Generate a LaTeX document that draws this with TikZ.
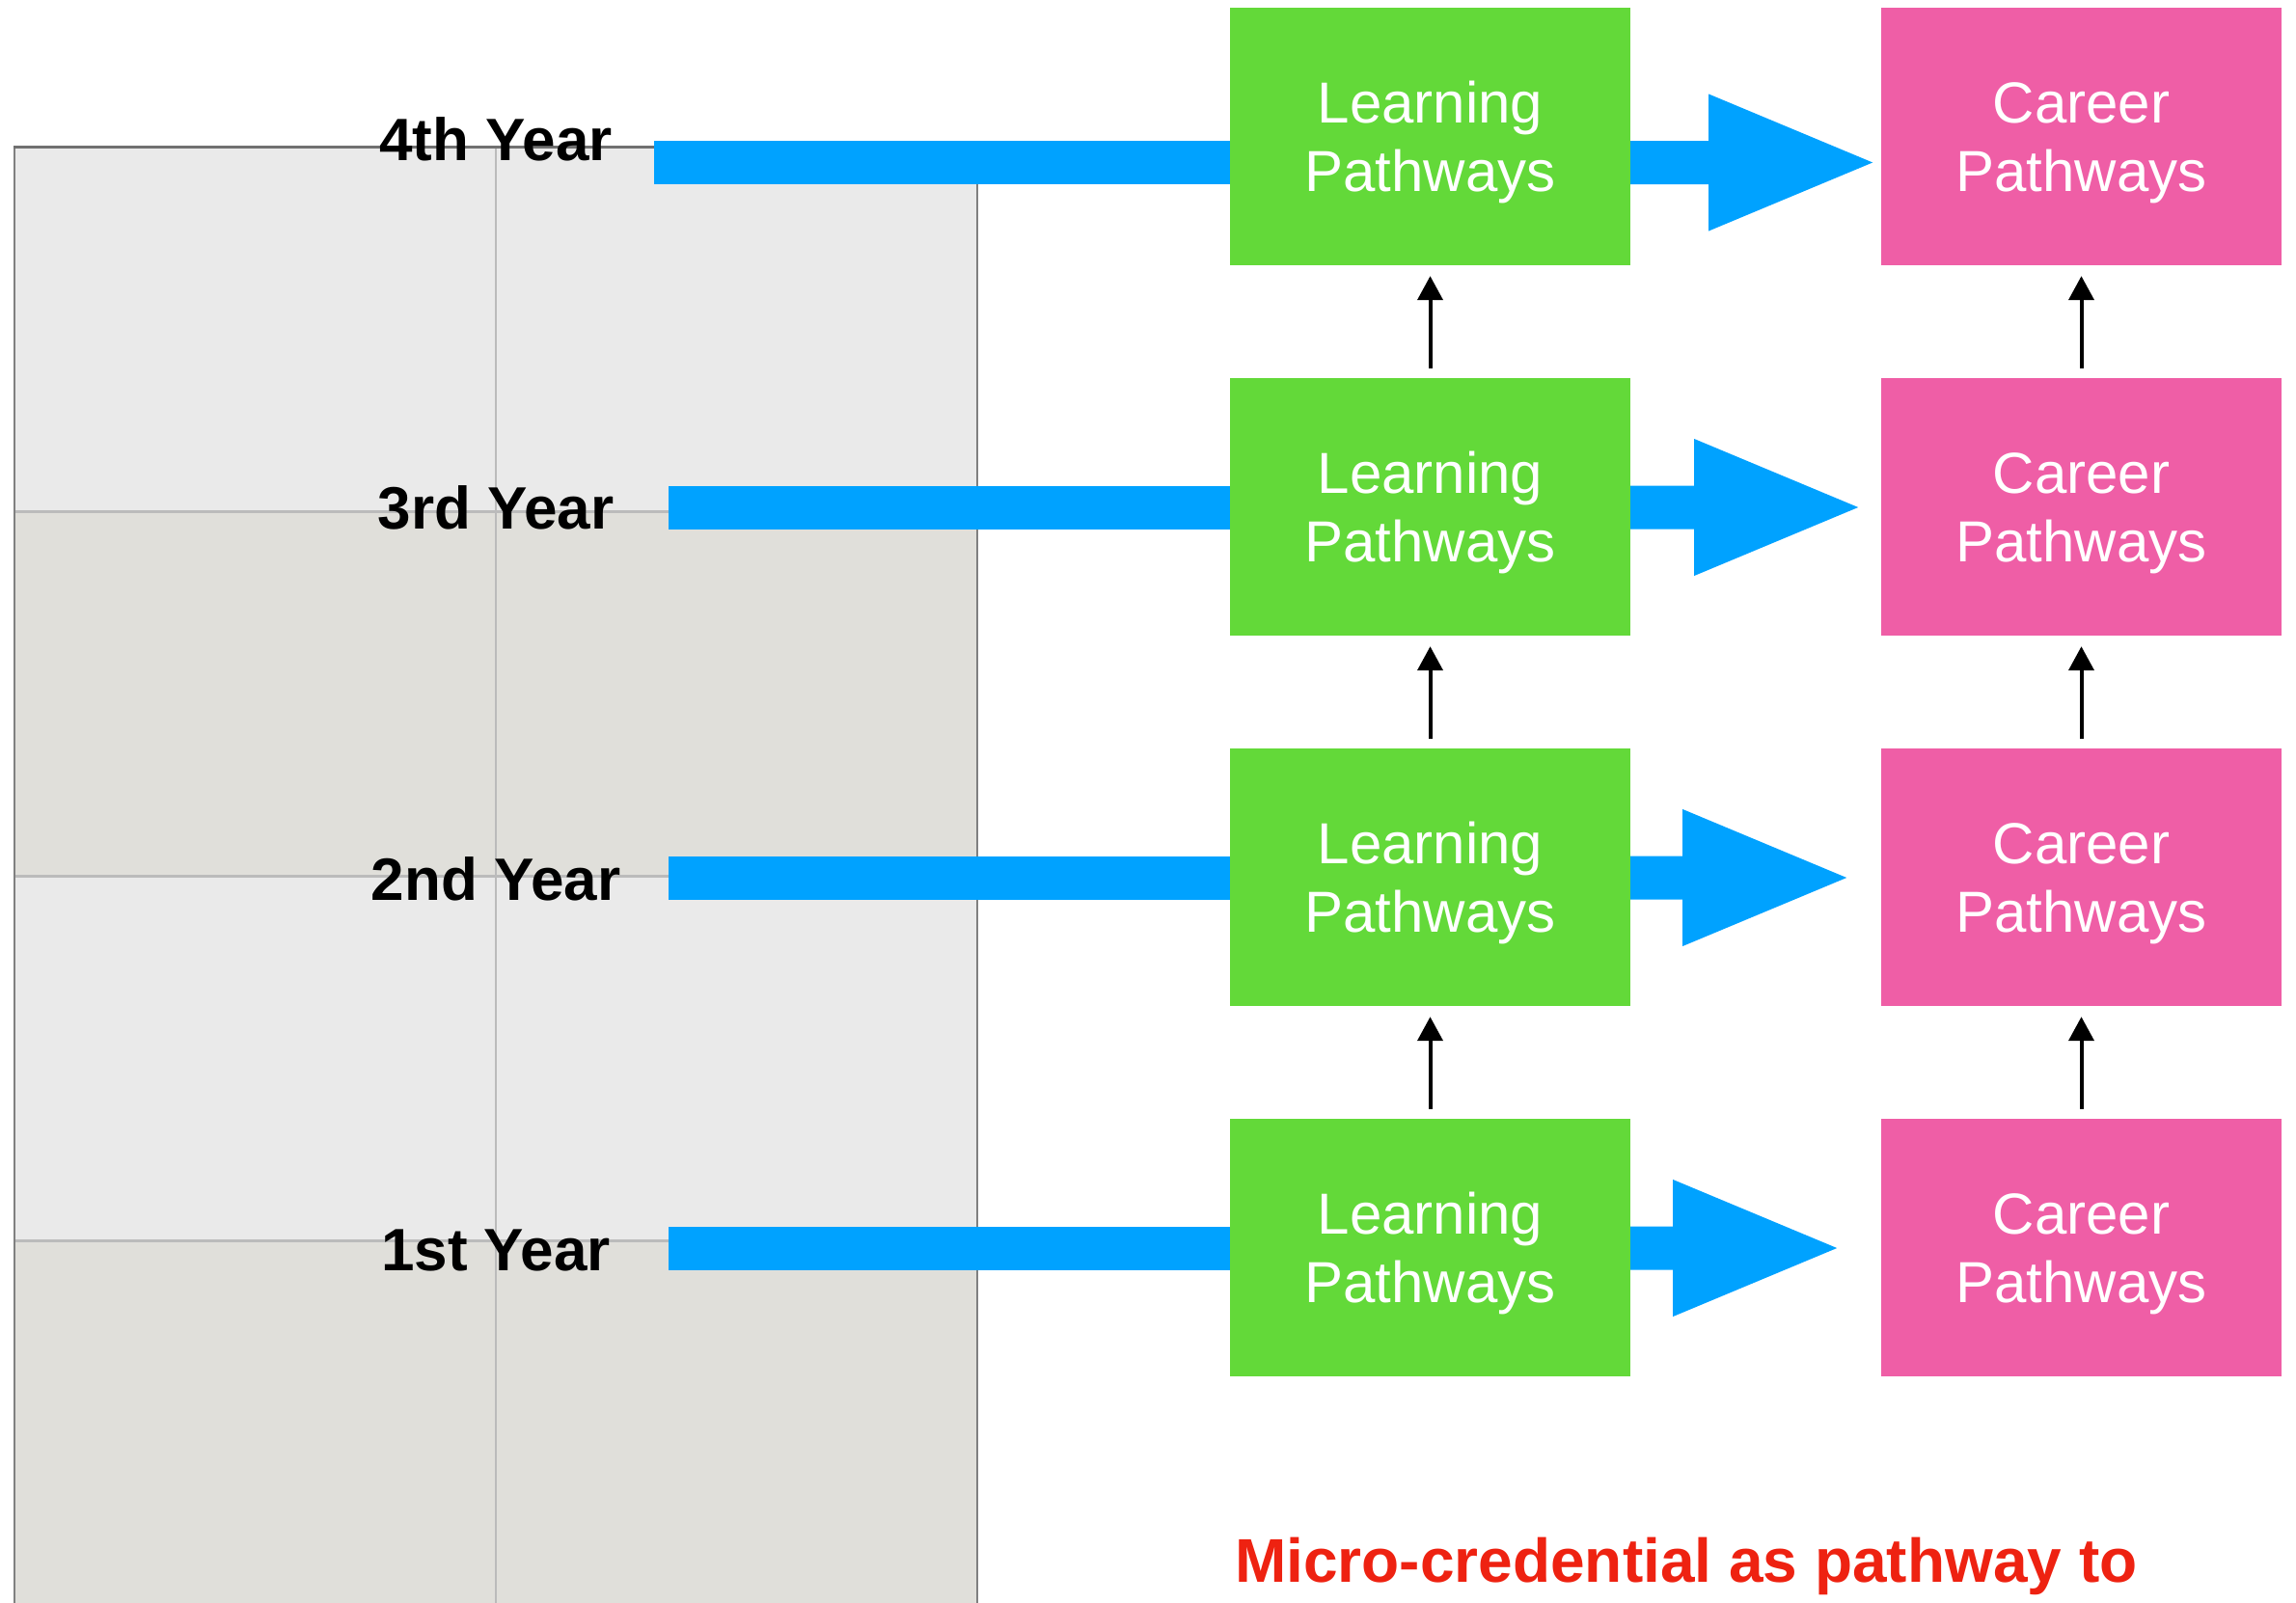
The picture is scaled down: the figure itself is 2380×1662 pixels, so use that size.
\documentclass[tikz,border=0pt]{standalone}
\usepackage{fontspec}
\setmainfont{Liberation Sans}
\usetikzlibrary{arrows.meta,calc}
\definecolor{lpgreen}{RGB}{99,217,57}
\definecolor{cpink}{RGB}{239,94,166}
\definecolor{barblue}{RGB}{0,162,255}
\definecolor{titlered}{RGB}{238,34,17}
\definecolor{panellight}{RGB}{234,234,234}
\definecolor{paneldark}{RGB}{224,223,218}
\definecolor{gridline}{RGB}{187,187,187}
\definecolor{edgeline}{RGB}{128,128,128}
\definecolor{topline}{RGB}{112,112,112}
\newcommand\blockarrow[3]{\fill[barblue] ($(#1.east |- #2)+(0,-22.5)$) -- ++(#3,0) -- ++(0,-48.5) -- ++(170,71) -- ++(-170,71) -- ++(0,-48.5) -- ++(-#3,0) -- cycle;}
\newcommand\twolines[2]{\raisebox{-7.5pt}[\height][\depth]{\begin{tabular}{@{}c@{}}#1\\#2\end{tabular}}}
\begin{document}
\begin{tikzpicture}[x=1pt,y=-1pt,
  learnbox/.style={fill=lpgreen, minimum width=415pt, minimum height=267pt, inner sep=0pt, text=white, font=\fontsize{60}{71}\selectfont},
  careerbox/.style={learnbox, fill=cpink},
  yearlabel/.style={font=\bfseries\fontsize{62}{74}\selectfont, anchor=base, inner sep=0pt},
  bluebar/.style={draw=barblue, line width=45pt},
  uparrow/.style={line width=4pt, -{Triangle[length=25pt,width=26pt]}, shorten <=10pt, shorten >=11pt}
]
\fill[white] (0,0) rectangle (2380,1662);
\useasboundingbox (0,0) rectangle (2380,1662);
% panel
\fill[panellight] (15,152) rectangle (1013,530);
\fill[paneldark] (15,530) rectangle (1013,908);
\fill[panellight] (15,908) rectangle (1013,1286);
\fill[paneldark] (15,1286) rectangle (1013,1662);
\draw[gridline, line width=3pt] (15,530) -- (1013,530);
\draw[gridline, line width=3pt] (15,908) -- (1013,908);
\draw[gridline, line width=3pt] (15,1286) -- (1013,1286);
\draw[gridline, line width=2pt] (514,152) -- (514,1662);
\draw[edgeline, line width=2.5pt] (15,1662) -- (15,152);
\draw[edgeline, line width=2.5pt] (1013,152) -- (1013,1662);
\draw[topline, line width=3pt] (14,152) -- (1014,152);
% boxes
\node[learnbox] (L4) at (1482.5,141.5) {\twolines{Learning}{Pathways}};
\node[learnbox] (L3) at (1482.5,525.5) {\twolines{Learning}{Pathways}};
\node[learnbox] (L2) at (1482.5,909.5) {\twolines{Learning}{Pathways}};
\node[learnbox] (L1) at (1482.5,1293.5) {\twolines{Learning}{Pathways}};
\node[careerbox] (C4) at (2157.5,141.5) {\twolines{Career}{Pathways}};
\node[careerbox] (C3) at (2157.5,525.5) {\twolines{Career}{Pathways}};
\node[careerbox] (C2) at (2157.5,909.5) {\twolines{Career}{Pathways}};
\node[careerbox] (C1) at (2157.5,1293.5) {\twolines{Career}{Pathways}};
% blue bars
\coordinate (b4) at (678,168.5);
\coordinate (b3) at (693,526);
\coordinate (b2) at (693,910);
\coordinate (b1) at (693,1294);
\draw[bluebar] (b4) -- (L4.west |- b4);
\draw[bluebar] (b3) -- (L3.west |- b3);
\draw[bluebar] (b2) -- (L2.west |- b2);
\draw[bluebar] (b1) -- (L1.west |- b1);
% block arrows
\blockarrow{L4}{b4}{81}
\blockarrow{L3}{b3}{66}
\blockarrow{L2}{b2}{54}
\blockarrow{L1}{b1}{44}
% up arrows
\draw[uparrow] (L1.north) -- (L2.south);
\draw[uparrow] (L2.north) -- (L3.south);
\draw[uparrow] (L3.north) -- (L4.south);
\draw[uparrow] (C1.north) -- (C2.south);
\draw[uparrow] (C2.north) -- (C3.south);
\draw[uparrow] (C3.north) -- (C4.south);
% year labels
\node[yearlabel] (Y4) at (514,166) {4th Year};
\node[yearlabel] (Y3) at (514,548) {3rd Year};
\node[yearlabel] (Y2) at (514,933) {2nd Year};
\node[yearlabel] (Y1) at (514,1317) {1st Year};
% title
\node[anchor=base west, inner sep=0pt, text=titlered, font=\bfseries\fontsize{64}{77}\selectfont] (T) at (1280,1640) {Micro-credential as pathway to};
\end{tikzpicture}
\end{document}
